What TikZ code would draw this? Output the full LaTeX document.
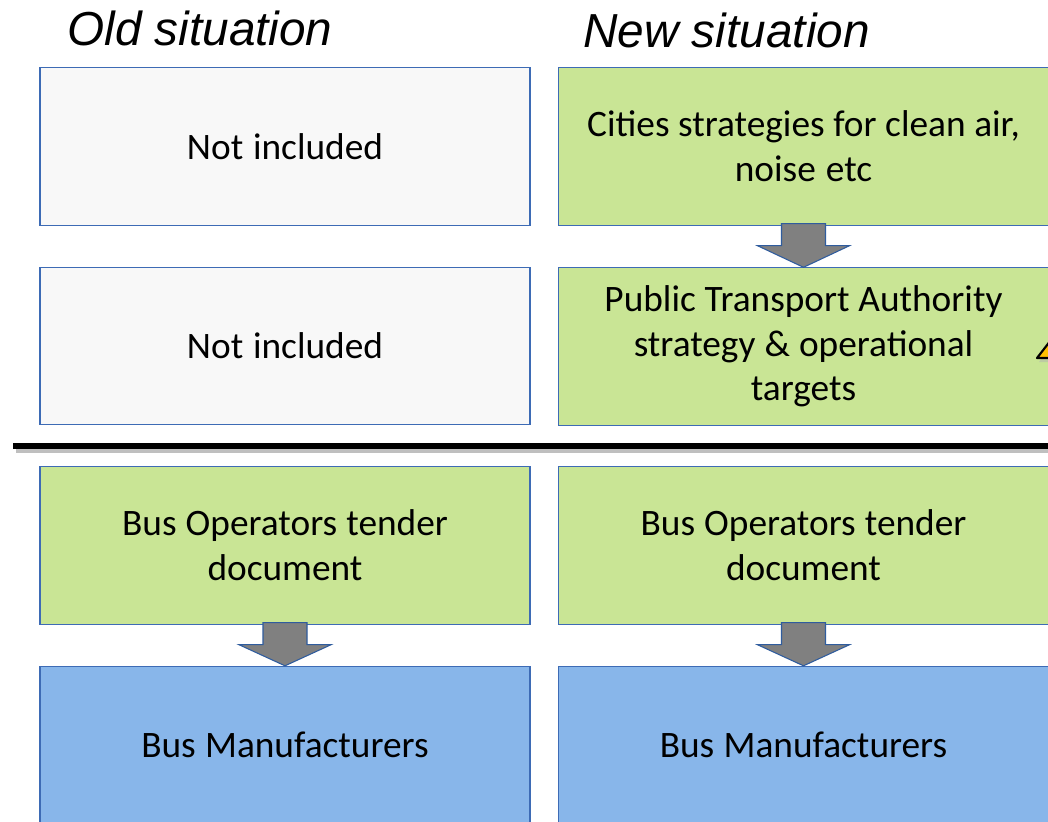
\documentclass[tikz,border=0pt]{standalone}
\usepackage{fontspec}
\setmainfont{Carlito}
\newfontfamily\titlefont{Liberation Sans}
\usetikzlibrary{calc}
\definecolor{boxborder}{HTML}{3D6BB5}
\definecolor{greyfill}{HTML}{F8F8F8}
\definecolor{greenfill}{HTML}{C9E595}
\definecolor{bluefill}{HTML}{88B6EA}
\definecolor{arrowfill}{HTML}{808080}
\definecolor{arrowborder}{HTML}{2F5C9E}
\definecolor{warnfill}{HTML}{FFC000}
\newcommand\tightwords{\spaceskip=0.226em plus 0.02em minus 0.02em\relax}
\tikzset{
  box/.style={draw=boxborder, line width=0.8pt, minimum width=367.5pt, minimum height=118pt,
    inner sep=2pt, align=center, font=\fontsize{28}{33.5}\selectfont, text width=350pt,
    execute at begin node=\tightwords},
  greybox/.style={box, fill=greyfill},
  greenbox/.style={box, fill=greenfill},
  bluebox/.style={box, fill=bluefill},
  bigarrow/.style={fill=arrowfill, draw=arrowborder, line width=0.8pt, line join=miter},
  titletext/.style={font=\titlefont\itshape\fontsize{35.8}{40}\selectfont, inner sep=0pt, anchor=base west}
}
\begin{document}
\begin{tikzpicture}[x=0.75pt,y=-0.75pt]
\clip (0,0) rectangle (1048,821);
\fill[white] (0,0) rectangle (1048,821);
% titles
\node[titletext] (t1) at (67,45) {Old situation};
\node[titletext] (t2) at (583,47) {New situation};
% left column
\node[greybox] (l1) at (285,146.5) {Not included};
\node[greybox] (l2) at (285,346) {Not included};
\node[greenbox] (l3) at (285,545.5) {Bus Operators tender\\document};
\node[bluebox] (l4) at (285,745) {Bus Manufacturers};
% right column
\node[greenbox] (r1) at (803.5,146.5) {Cities strategies for clean air,\\noise etc};
\node[greenbox] (r2) at (803.5,346.5) {Public Transport Authority\\strategy \& operational\\targets};
\node[greenbox] (r3) at (803.5,545.5) {Bus Operators tender\\document};
\node[bluebox] (r4) at (803.5,745) {Bus Manufacturers};
% divider line
\coordinate (d1) at (13,446);
\coordinate (d2) at (1060,446);
\draw[line width=4pt, black!25] ($(d1)+(3,4)$) -- ($(d2)+(3,4)$);
\draw[line width=4.5pt, black] (d1) -- (d2);
% arrows
\foreach \a/\b in {r1/r2, l3/l4, r3/r4}{
  \draw[bigarrow] ($(\a.south)+(-22,-2)$) -- ++(0,22) -- ++(-24,0) -- (\b.north)
     -- ($(\a.south)+(46,20)$) -- ++(-24,0) -- ++(0,-22) -- cycle;
}
% partial warning triangle at right edge
\coordinate (w1) at (1037,358);
\fill[black!30, opacity=0.5] ($(w1)+(2,4)$) -- ++(24,-31) -- ++(24,31) -- cycle;
\draw[fill=warnfill, draw=black, line width=1.6pt, line join=round] (w1) -- ++(24,-31) -- ++(24,31) -- cycle;
\end{tikzpicture}
\end{document}
